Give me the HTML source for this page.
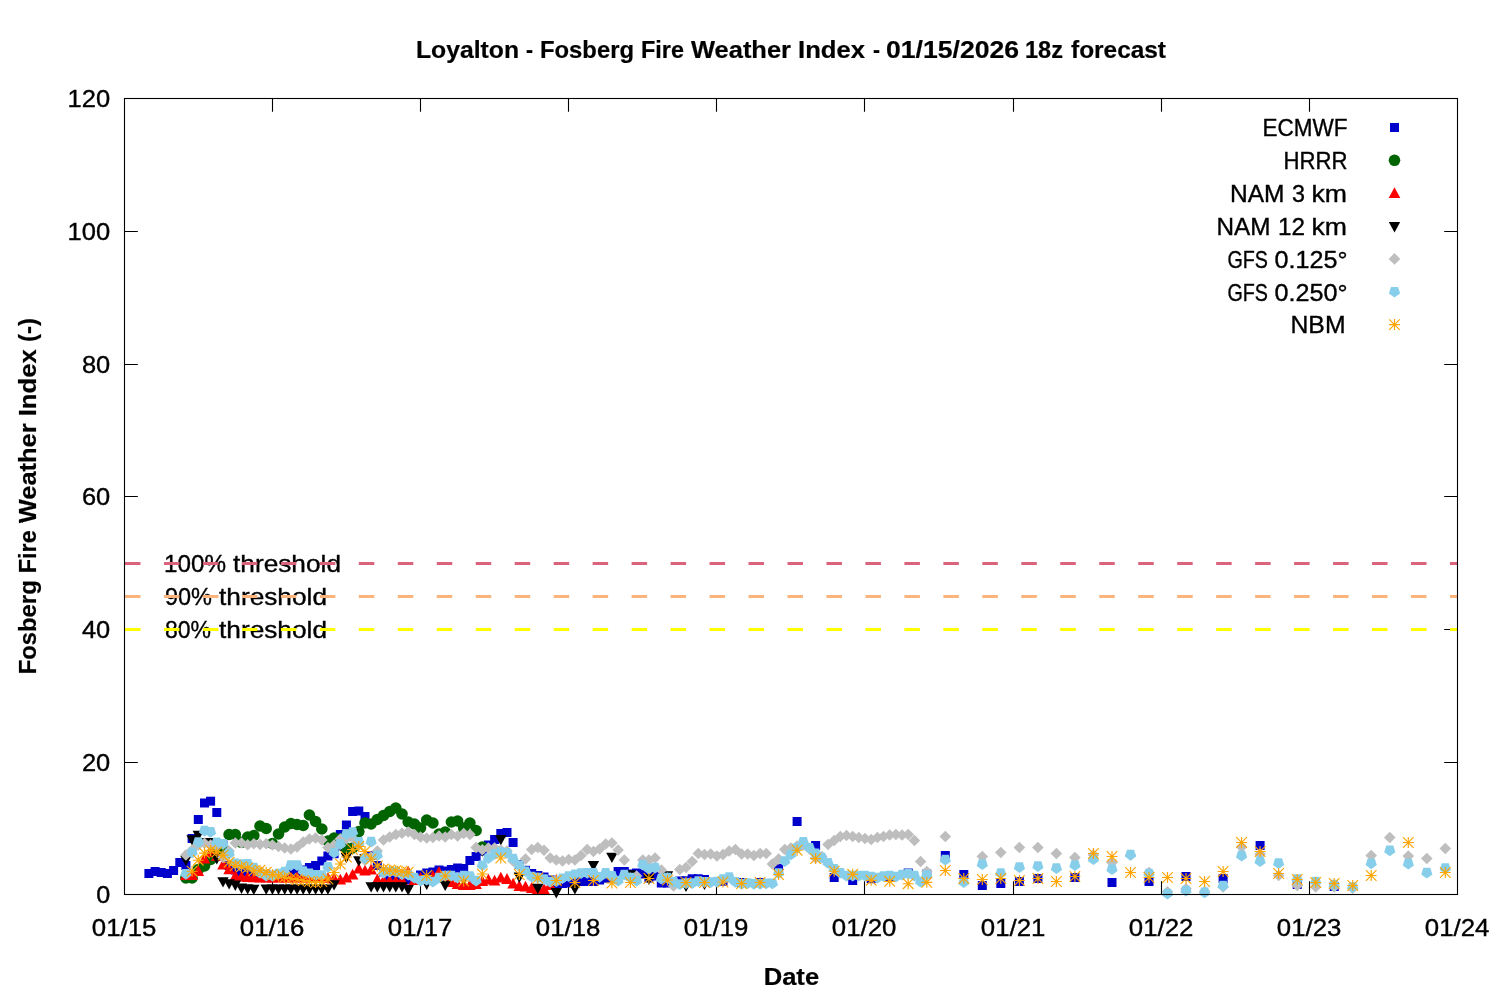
<!DOCTYPE html>
<html lang="en"><head><meta charset="utf-8"><title>Loyalton - Fosberg Fire Weather Index</title>
<style>html,body{margin:0;padding:0;background:#fff}svg{display:block}text{font-family:"Liberation Sans", "DejaVu Sans", sans-serif;font-size:23.6px;fill:#000;stroke:#000;stroke-width:.35px}.b{font-weight:bold;stroke-width:.2px}</style></head><body>
<svg width="1500" height="1000" viewBox="0 0 1500 1000">
<rect width="1500" height="1000" fill="#fff"/>
<g stroke="#000" stroke-width="1.1" fill="none">
<path d="M124.5 762.5h13.3M1457.5 762.5h-13.3M124.5 629.5h13.3M1457.5 629.5h-13.3M124.5 496.5h13.3M1457.5 496.5h-13.3M124.5 364.5h13.3M1457.5 364.5h-13.3M124.5 231.5h13.3M1457.5 231.5h-13.3M272.5 894.5v-13.3M272.5 98.5v13.3M420.5 894.5v-13.3M420.5 98.5v13.3M568.5 894.5v-13.3M568.5 98.5v13.3M716.5 894.5v-13.3M716.5 98.5v13.3M864.5 894.5v-13.3M864.5 98.5v13.3M1013.5 894.5v-13.3M1013.5 98.5v13.3M1161.5 894.5v-13.3M1161.5 98.5v13.3M1309.5 894.5v-13.3M1309.5 98.5v13.3"/>
</g>
<text y="57.6" class="b"><tspan x="416.0" textLength="103.0" lengthAdjust="spacingAndGlyphs">Loyalton</tspan> <tspan x="526.0" textLength="7.0" lengthAdjust="spacingAndGlyphs">-</tspan> <tspan x="540.0" textLength="94.0" lengthAdjust="spacingAndGlyphs">Fosberg</tspan> <tspan x="641.0" textLength="43.0" lengthAdjust="spacingAndGlyphs">Fire</tspan> <tspan x="691.0" textLength="100.0" lengthAdjust="spacingAndGlyphs">Weather</tspan> <tspan x="798.0" textLength="67.0" lengthAdjust="spacingAndGlyphs">Index</tspan> <tspan x="873.0" textLength="7.0" lengthAdjust="spacingAndGlyphs">-</tspan> <tspan x="886.0" textLength="133.0" lengthAdjust="spacingAndGlyphs">01/15/2026</tspan> <tspan x="1025.0" textLength="38.0" lengthAdjust="spacingAndGlyphs">18z</tspan> <tspan x="1071.0" textLength="95.0" lengthAdjust="spacingAndGlyphs">forecast</tspan></text>
<text x="791.4" y="985.0" text-anchor="middle" textLength="55.5" lengthAdjust="spacingAndGlyphs" class="b">Date</text>
<text transform="translate(36,673.3) rotate(-90)" class="b"><tspan x="-1.0" textLength="94.0" lengthAdjust="spacingAndGlyphs">Fosberg</tspan> <tspan x="100.0" textLength="43.0" lengthAdjust="spacingAndGlyphs">Fire</tspan> <tspan x="150.0" textLength="100.0" lengthAdjust="spacingAndGlyphs">Weather</tspan> <tspan x="257.0" textLength="67.0" lengthAdjust="spacingAndGlyphs">Index</tspan> <tspan x="331.3" textLength="24.0" lengthAdjust="spacingAndGlyphs">(-)</tspan></text>
<text x="110.2" y="903.2" text-anchor="end" textLength="14.0" lengthAdjust="spacingAndGlyphs">0</text>
<text x="110.2" y="771.2" text-anchor="end" textLength="28.3" lengthAdjust="spacingAndGlyphs">20</text>
<text x="110.2" y="638.2" text-anchor="end" textLength="28.3" lengthAdjust="spacingAndGlyphs">40</text>
<text x="110.2" y="505.2" text-anchor="end" textLength="28.3" lengthAdjust="spacingAndGlyphs">60</text>
<text x="110.2" y="373.2" text-anchor="end" textLength="28.3" lengthAdjust="spacingAndGlyphs">80</text>
<text x="110.2" y="240.2" text-anchor="end" textLength="42.6" lengthAdjust="spacingAndGlyphs">100</text>
<text x="110.2" y="107.2" text-anchor="end" textLength="42.6" lengthAdjust="spacingAndGlyphs">120</text>
<text x="124.1" y="936.0" text-anchor="middle" textLength="64.6" lengthAdjust="spacingAndGlyphs">01/15</text>
<text x="272.1" y="936.0" text-anchor="middle" textLength="64.6" lengthAdjust="spacingAndGlyphs">01/16</text>
<text x="420.1" y="936.0" text-anchor="middle" textLength="64.6" lengthAdjust="spacingAndGlyphs">01/17</text>
<text x="568.1" y="936.0" text-anchor="middle" textLength="64.6" lengthAdjust="spacingAndGlyphs">01/18</text>
<text x="716.1" y="936.0" text-anchor="middle" textLength="64.6" lengthAdjust="spacingAndGlyphs">01/19</text>
<text x="864.1" y="936.0" text-anchor="middle" textLength="64.6" lengthAdjust="spacingAndGlyphs">01/20</text>
<text x="1013.1" y="936.0" text-anchor="middle" textLength="64.6" lengthAdjust="spacingAndGlyphs">01/21</text>
<text x="1161.1" y="936.0" text-anchor="middle" textLength="64.6" lengthAdjust="spacingAndGlyphs">01/22</text>
<text x="1309.1" y="936.0" text-anchor="middle" textLength="64.6" lengthAdjust="spacingAndGlyphs">01/23</text>
<text x="1457.1" y="936.0" text-anchor="middle" textLength="64.6" lengthAdjust="spacingAndGlyphs">01/24</text>
<text y="571.6"><tspan x="164.0" textLength="62.0" lengthAdjust="spacingAndGlyphs">100%</tspan> <tspan x="233.0" textLength="108.0" lengthAdjust="spacingAndGlyphs">threshold</tspan></text>
<text y="604.7"><tspan x="165.0" textLength="47.0" lengthAdjust="spacingAndGlyphs">90%</tspan> <tspan x="219.0" textLength="108.0" lengthAdjust="spacingAndGlyphs">threshold</tspan></text>
<text y="637.8"><tspan x="165.0" textLength="46.0" lengthAdjust="spacingAndGlyphs">80%</tspan> <tspan x="219.0" textLength="108.0" lengthAdjust="spacingAndGlyphs">threshold</tspan></text>
<line x1="125.0" y1="563.5" x2="1457.5" y2="563.5" stroke="#dc637c" stroke-width="3" stroke-dasharray="15.5 23.47"/>
<line x1="125.0" y1="596.5" x2="1457.5" y2="596.5" stroke="#fbb47c" stroke-width="3" stroke-dasharray="15.5 23.47"/>
<line x1="125.0" y1="629.5" x2="1457.5" y2="629.5" stroke="#ffff00" stroke-width="3" stroke-dasharray="15.5 23.47"/>
<text y="136.3"><tspan x="1262.5" textLength="85.0" lengthAdjust="spacingAndGlyphs">ECMWF</tspan></text>
<g>
<rect x="1390.0" y="123.0" width="9" height="9" fill="#0000cd"/>
<rect x="144.4" y="869.0" width="9" height="9" fill="#0000cd"/><rect x="150.6" y="867.0" width="9" height="9" fill="#0000cd"/><rect x="156.7" y="868.0" width="9" height="9" fill="#0000cd"/><rect x="162.9" y="869.0" width="9" height="9" fill="#0000cd"/><rect x="169.1" y="866.0" width="9" height="9" fill="#0000cd"/><rect x="175.3" y="858.0" width="9" height="9" fill="#0000cd"/><rect x="181.4" y="861.0" width="9" height="9" fill="#0000cd"/><rect x="187.6" y="834.0" width="9" height="9" fill="#0000cd"/><rect x="193.8" y="815.0" width="9" height="9" fill="#0000cd"/><rect x="200.0" y="798.5" width="9" height="9" fill="#0000cd"/><rect x="206.1" y="796.7" width="9" height="9" fill="#0000cd"/><rect x="212.3" y="808.0" width="9" height="9" fill="#0000cd"/><rect x="218.5" y="840.5" width="9" height="9" fill="#0000cd"/><rect x="224.6" y="861.1" width="9" height="9" fill="#0000cd"/><rect x="230.8" y="865.5" width="9" height="9" fill="#0000cd"/><rect x="237.0" y="867.0" width="9" height="9" fill="#0000cd"/><rect x="243.2" y="867.5" width="9" height="9" fill="#0000cd"/><rect x="249.3" y="868.5" width="9" height="9" fill="#0000cd"/><rect x="255.5" y="869.5" width="9" height="9" fill="#0000cd"/><rect x="261.7" y="870.5" width="9" height="9" fill="#0000cd"/><rect x="267.9" y="871.0" width="9" height="9" fill="#0000cd"/><rect x="274.0" y="870.5" width="9" height="9" fill="#0000cd"/><rect x="280.2" y="869.5" width="9" height="9" fill="#0000cd"/><rect x="286.4" y="867.5" width="9" height="9" fill="#0000cd"/><rect x="292.6" y="868.0" width="9" height="9" fill="#0000cd"/><rect x="298.7" y="865.5" width="9" height="9" fill="#0000cd"/><rect x="304.9" y="863.0" width="9" height="9" fill="#0000cd"/><rect x="311.1" y="861.0" width="9" height="9" fill="#0000cd"/><rect x="317.3" y="856.5" width="9" height="9" fill="#0000cd"/><rect x="323.4" y="851.5" width="9" height="9" fill="#0000cd"/><rect x="329.6" y="849.2" width="9" height="9" fill="#0000cd"/><rect x="335.8" y="830.0" width="9" height="9" fill="#0000cd"/><rect x="341.9" y="820.5" width="9" height="9" fill="#0000cd"/><rect x="348.1" y="807.0" width="9" height="9" fill="#0000cd"/><rect x="354.3" y="806.5" width="9" height="9" fill="#0000cd"/><rect x="360.5" y="812.0" width="9" height="9" fill="#0000cd"/><rect x="366.6" y="851.0" width="9" height="9" fill="#0000cd"/><rect x="372.8" y="861.0" width="9" height="9" fill="#0000cd"/><rect x="379.0" y="867.5" width="9" height="9" fill="#0000cd"/><rect x="385.2" y="875.5" width="9" height="9" fill="#0000cd"/><rect x="391.3" y="875.5" width="9" height="9" fill="#0000cd"/><rect x="397.5" y="875.5" width="9" height="9" fill="#0000cd"/><rect x="403.7" y="875.5" width="9" height="9" fill="#0000cd"/><rect x="409.9" y="874.5" width="9" height="9" fill="#0000cd"/><rect x="416.0" y="870.5" width="9" height="9" fill="#0000cd"/><rect x="422.2" y="868.5" width="9" height="9" fill="#0000cd"/><rect x="428.4" y="867.5" width="9" height="9" fill="#0000cd"/><rect x="434.5" y="865.5" width="9" height="9" fill="#0000cd"/><rect x="440.7" y="866.5" width="9" height="9" fill="#0000cd"/><rect x="446.9" y="865.0" width="9" height="9" fill="#0000cd"/><rect x="453.1" y="863.5" width="9" height="9" fill="#0000cd"/><rect x="459.2" y="864.0" width="9" height="9" fill="#0000cd"/><rect x="465.4" y="856.0" width="9" height="9" fill="#0000cd"/><rect x="471.6" y="852.0" width="9" height="9" fill="#0000cd"/><rect x="477.8" y="846.5" width="9" height="9" fill="#0000cd"/><rect x="483.9" y="840.5" width="9" height="9" fill="#0000cd"/><rect x="490.1" y="835.0" width="9" height="9" fill="#0000cd"/><rect x="496.3" y="829.0" width="9" height="9" fill="#0000cd"/><rect x="502.5" y="828.0" width="9" height="9" fill="#0000cd"/><rect x="508.6" y="838.0" width="9" height="9" fill="#0000cd"/><rect x="514.8" y="860.0" width="9" height="9" fill="#0000cd"/><rect x="521.0" y="865.8" width="9" height="9" fill="#0000cd"/><rect x="527.2" y="869.0" width="9" height="9" fill="#0000cd"/><rect x="533.3" y="871.0" width="9" height="9" fill="#0000cd"/><rect x="539.5" y="872.5" width="9" height="9" fill="#0000cd"/><rect x="545.7" y="875.5" width="9" height="9" fill="#0000cd"/><rect x="551.8" y="879.0" width="9" height="9" fill="#0000cd"/><rect x="558.0" y="879.0" width="9" height="9" fill="#0000cd"/><rect x="564.2" y="878.5" width="9" height="9" fill="#0000cd"/><rect x="570.4" y="877.2" width="9" height="9" fill="#0000cd"/><rect x="576.5" y="877.0" width="9" height="9" fill="#0000cd"/><rect x="582.7" y="877.0" width="9" height="9" fill="#0000cd"/><rect x="588.9" y="877.0" width="9" height="9" fill="#0000cd"/><rect x="595.1" y="875.5" width="9" height="9" fill="#0000cd"/><rect x="601.2" y="873.7" width="9" height="9" fill="#0000cd"/><rect x="607.4" y="872.5" width="9" height="9" fill="#0000cd"/><rect x="613.6" y="867.0" width="9" height="9" fill="#0000cd"/><rect x="619.8" y="867.0" width="9" height="9" fill="#0000cd"/><rect x="625.9" y="869.5" width="9" height="9" fill="#0000cd"/><rect x="632.1" y="868.5" width="9" height="9" fill="#0000cd"/><rect x="638.3" y="869.5" width="9" height="9" fill="#0000cd"/><rect x="644.4" y="873.5" width="9" height="9" fill="#0000cd"/><rect x="650.6" y="871.5" width="9" height="9" fill="#0000cd"/><rect x="656.8" y="878.5" width="9" height="9" fill="#0000cd"/><rect x="663.0" y="878.5" width="9" height="9" fill="#0000cd"/><rect x="669.1" y="877.5" width="9" height="9" fill="#0000cd"/><rect x="675.3" y="876.5" width="9" height="9" fill="#0000cd"/><rect x="681.5" y="876.3" width="9" height="9" fill="#0000cd"/><rect x="687.7" y="874.3" width="9" height="9" fill="#0000cd"/><rect x="693.8" y="874.3" width="9" height="9" fill="#0000cd"/><rect x="700.0" y="875.0" width="9" height="9" fill="#0000cd"/><rect x="718.5" y="876.7" width="9" height="9" fill="#0000cd"/><rect x="737.1" y="878.0" width="9" height="9" fill="#0000cd"/><rect x="755.6" y="878.0" width="9" height="9" fill="#0000cd"/><rect x="774.1" y="864.0" width="9" height="9" fill="#0000cd"/><rect x="792.6" y="817.0" width="9" height="9" fill="#0000cd"/><rect x="811.1" y="841.0" width="9" height="9" fill="#0000cd"/><rect x="829.7" y="873.0" width="9" height="9" fill="#0000cd"/><rect x="848.2" y="876.0" width="9" height="9" fill="#0000cd"/><rect x="866.7" y="874.2" width="9" height="9" fill="#0000cd"/><rect x="885.2" y="873.0" width="9" height="9" fill="#0000cd"/><rect x="903.7" y="868.5" width="9" height="9" fill="#0000cd"/><rect x="922.3" y="869.5" width="9" height="9" fill="#0000cd"/><rect x="940.8" y="851.0" width="9" height="9" fill="#0000cd"/><rect x="959.3" y="870.0" width="9" height="9" fill="#0000cd"/><rect x="977.8" y="881.0" width="9" height="9" fill="#0000cd"/><rect x="996.3" y="879.0" width="9" height="9" fill="#0000cd"/><rect x="1014.9" y="877.0" width="9" height="9" fill="#0000cd"/><rect x="1033.4" y="874.0" width="9" height="9" fill="#0000cd"/><rect x="1070.4" y="873.0" width="9" height="9" fill="#0000cd"/><rect x="1107.5" y="878.0" width="9" height="9" fill="#0000cd"/><rect x="1144.5" y="877.0" width="9" height="9" fill="#0000cd"/><rect x="1181.5" y="872.0" width="9" height="9" fill="#0000cd"/><rect x="1218.6" y="874.0" width="9" height="9" fill="#0000cd"/><rect x="1255.6" y="841.0" width="9" height="9" fill="#0000cd"/><rect x="1292.7" y="880.0" width="9" height="9" fill="#0000cd"/><rect x="1329.7" y="882.0" width="9" height="9" fill="#0000cd"/>
</g>
<text y="169.2"><tspan x="1283.5" textLength="64.0" lengthAdjust="spacingAndGlyphs">HRRR</tspan></text>
<g>
<circle cx="1394.5" cy="160.3" r="5.8" fill="#006400"/>
<circle cx="185.9" cy="878.0" r="5.8" fill="#006400"/><circle cx="192.1" cy="878.0" r="5.8" fill="#006400"/><circle cx="198.3" cy="869.5" r="5.8" fill="#006400"/><circle cx="204.5" cy="866.0" r="5.8" fill="#006400"/><circle cx="210.6" cy="859.5" r="5.8" fill="#006400"/><circle cx="216.8" cy="853.5" r="5.8" fill="#006400"/><circle cx="223.0" cy="851.0" r="5.8" fill="#006400"/><circle cx="229.1" cy="834.5" r="5.8" fill="#006400"/><circle cx="235.3" cy="834.5" r="5.8" fill="#006400"/><circle cx="241.5" cy="842.3" r="5.8" fill="#006400"/><circle cx="247.7" cy="837.0" r="5.8" fill="#006400"/><circle cx="253.8" cy="835.5" r="5.8" fill="#006400"/><circle cx="260.0" cy="826.0" r="5.8" fill="#006400"/><circle cx="266.2" cy="828.5" r="5.8" fill="#006400"/><circle cx="272.4" cy="843.5" r="5.8" fill="#006400"/><circle cx="278.5" cy="834.0" r="5.8" fill="#006400"/><circle cx="284.7" cy="827.0" r="5.8" fill="#006400"/><circle cx="290.9" cy="823.5" r="5.8" fill="#006400"/><circle cx="297.1" cy="824.5" r="5.8" fill="#006400"/><circle cx="303.2" cy="825.5" r="5.8" fill="#006400"/><circle cx="309.4" cy="815.0" r="5.8" fill="#006400"/><circle cx="315.6" cy="821.5" r="5.8" fill="#006400"/><circle cx="321.8" cy="829.0" r="5.8" fill="#006400"/><circle cx="327.9" cy="841.0" r="5.8" fill="#006400"/><circle cx="334.1" cy="838.0" r="5.8" fill="#006400"/><circle cx="340.3" cy="839.0" r="5.8" fill="#006400"/><circle cx="346.4" cy="848.4" r="5.8" fill="#006400"/><circle cx="352.6" cy="848.0" r="5.8" fill="#006400"/><circle cx="358.8" cy="831.6" r="5.8" fill="#006400"/><circle cx="365.0" cy="823.0" r="5.8" fill="#006400"/><circle cx="371.1" cy="824.0" r="5.8" fill="#006400"/><circle cx="377.3" cy="819.5" r="5.8" fill="#006400"/><circle cx="383.5" cy="815.5" r="5.8" fill="#006400"/><circle cx="389.7" cy="811.5" r="5.8" fill="#006400"/><circle cx="395.8" cy="808.0" r="5.8" fill="#006400"/><circle cx="402.0" cy="814.0" r="5.8" fill="#006400"/><circle cx="408.2" cy="822.0" r="5.8" fill="#006400"/><circle cx="414.4" cy="824.0" r="5.8" fill="#006400"/><circle cx="420.5" cy="828.0" r="5.8" fill="#006400"/><circle cx="426.7" cy="820.0" r="5.8" fill="#006400"/><circle cx="432.9" cy="823.0" r="5.8" fill="#006400"/><circle cx="439.0" cy="834.0" r="5.8" fill="#006400"/><circle cx="445.2" cy="832.0" r="5.8" fill="#006400"/><circle cx="451.4" cy="822.0" r="5.8" fill="#006400"/><circle cx="457.6" cy="821.0" r="5.8" fill="#006400"/><circle cx="463.7" cy="828.0" r="5.8" fill="#006400"/><circle cx="469.9" cy="823.0" r="5.8" fill="#006400"/><circle cx="476.1" cy="830.5" r="5.8" fill="#006400"/><circle cx="482.3" cy="847.0" r="5.8" fill="#006400"/>
</g>
<text y="202.0"><tspan x="1230.0" textLength="54.5" lengthAdjust="spacingAndGlyphs">NAM</tspan> <tspan x="1292.0" textLength="13.0" lengthAdjust="spacingAndGlyphs">3</tspan> <tspan x="1311.5" textLength="35.5" lengthAdjust="spacingAndGlyphs">km</tspan></text>
<g>
<path d="M1394.5 187.3l5.8 10.8h-11.6z" fill="#ff0000"/>
<path d="M185.9 869.1l5.8 10.8h-11.6z" fill="#ff0000"/><path d="M192.1 869.1l5.8 10.8h-11.6z" fill="#ff0000"/><path d="M198.3 865.1l5.8 10.8h-11.6z" fill="#ff0000"/><path d="M204.5 852.7l5.8 10.8h-11.6z" fill="#ff0000"/><path d="M210.6 846.1l5.8 10.8h-11.6z" fill="#ff0000"/><path d="M216.8 850.1l5.8 10.8h-11.6z" fill="#ff0000"/><path d="M223.0 858.7l5.8 10.8h-11.6z" fill="#ff0000"/><path d="M229.1 863.4l5.8 10.8h-11.6z" fill="#ff0000"/><path d="M235.3 870.1l5.8 10.8h-11.6z" fill="#ff0000"/><path d="M241.5 870.8l5.8 10.8h-11.6z" fill="#ff0000"/><path d="M247.7 871.1l5.8 10.8h-11.6z" fill="#ff0000"/><path d="M253.8 871.4l5.8 10.8h-11.6z" fill="#ff0000"/><path d="M260.0 871.6l5.8 10.8h-11.6z" fill="#ff0000"/><path d="M266.2 871.6l5.8 10.8h-11.6z" fill="#ff0000"/><path d="M272.4 871.6l5.8 10.8h-11.6z" fill="#ff0000"/><path d="M278.5 871.6l5.8 10.8h-11.6z" fill="#ff0000"/><path d="M284.7 871.6l5.8 10.8h-11.6z" fill="#ff0000"/><path d="M290.9 871.6l5.8 10.8h-11.6z" fill="#ff0000"/><path d="M297.1 871.6l5.8 10.8h-11.6z" fill="#ff0000"/><path d="M303.2 871.6l5.8 10.8h-11.6z" fill="#ff0000"/><path d="M309.4 871.6l5.8 10.8h-11.6z" fill="#ff0000"/><path d="M315.6 871.6l5.8 10.8h-11.6z" fill="#ff0000"/><path d="M321.8 871.6l5.8 10.8h-11.6z" fill="#ff0000"/><path d="M327.9 871.9l5.8 10.8h-11.6z" fill="#ff0000"/><path d="M334.1 872.6l5.8 10.8h-11.6z" fill="#ff0000"/><path d="M340.3 873.7l5.8 10.8h-11.6z" fill="#ff0000"/><path d="M346.4 871.7l5.8 10.8h-11.6z" fill="#ff0000"/><path d="M352.6 868.7l5.8 10.8h-11.6z" fill="#ff0000"/><path d="M358.8 862.7l5.8 10.8h-11.6z" fill="#ff0000"/><path d="M365.0 864.7l5.8 10.8h-11.6z" fill="#ff0000"/><path d="M371.1 863.7l5.8 10.8h-11.6z" fill="#ff0000"/><path d="M377.3 873.6l5.8 10.8h-11.6z" fill="#ff0000"/><path d="M383.5 874.7l5.8 10.8h-11.6z" fill="#ff0000"/><path d="M389.7 874.7l5.8 10.8h-11.6z" fill="#ff0000"/><path d="M395.8 875.1l5.8 10.8h-11.6z" fill="#ff0000"/><path d="M402.0 874.1l5.8 10.8h-11.6z" fill="#ff0000"/><path d="M408.2 865.7l5.8 10.8h-11.6z" fill="#ff0000"/><path d="M414.4 874.1l5.8 10.8h-11.6z" fill="#ff0000"/><path d="M420.5 872.1l5.8 10.8h-11.6z" fill="#ff0000"/><path d="M426.7 873.1l5.8 10.8h-11.6z" fill="#ff0000"/><path d="M432.9 870.1l5.8 10.8h-11.6z" fill="#ff0000"/><path d="M439.0 866.1l5.8 10.8h-11.6z" fill="#ff0000"/><path d="M445.2 872.1l5.8 10.8h-11.6z" fill="#ff0000"/><path d="M451.4 876.1l5.8 10.8h-11.6z" fill="#ff0000"/><path d="M457.6 878.1l5.8 10.8h-11.6z" fill="#ff0000"/><path d="M463.7 879.1l5.8 10.8h-11.6z" fill="#ff0000"/><path d="M469.9 879.1l5.8 10.8h-11.6z" fill="#ff0000"/><path d="M476.1 878.1l5.8 10.8h-11.6z" fill="#ff0000"/><path d="M482.3 875.1l5.8 10.8h-11.6z" fill="#ff0000"/><path d="M488.4 873.7l5.8 10.8h-11.6z" fill="#ff0000"/><path d="M494.6 874.7l5.8 10.8h-11.6z" fill="#ff0000"/><path d="M500.8 871.7l5.8 10.8h-11.6z" fill="#ff0000"/><path d="M507.0 873.1l5.8 10.8h-11.6z" fill="#ff0000"/><path d="M513.1 877.7l5.8 10.8h-11.6z" fill="#ff0000"/><path d="M519.3 880.1l5.8 10.8h-11.6z" fill="#ff0000"/><path d="M525.5 880.7l5.8 10.8h-11.6z" fill="#ff0000"/><path d="M531.7 882.1l5.8 10.8h-11.6z" fill="#ff0000"/><path d="M537.8 883.1l5.8 10.8h-11.6z" fill="#ff0000"/><path d="M544.0 883.1l5.8 10.8h-11.6z" fill="#ff0000"/><path d="M550.2 879.1l5.8 10.8h-11.6z" fill="#ff0000"/><path d="M556.3 874.1l5.8 10.8h-11.6z" fill="#ff0000"/>
</g>
<text y="234.9"><tspan x="1216.5" textLength="54.0" lengthAdjust="spacingAndGlyphs">NAM</tspan> <tspan x="1278.0" textLength="27.0" lengthAdjust="spacingAndGlyphs">12</tspan> <tspan x="1311.5" textLength="35.5" lengthAdjust="spacingAndGlyphs">km</tspan></text>
<g>
<path d="M1394.5 232.4l5.7 -10.3h-11.4z" fill="#000000"/>
<path d="M185.9 866.1l5.7 -10.3h-11.4z" fill="#000000"/><path d="M192.1 845.5l5.7 -10.3h-11.4z" fill="#000000"/><path d="M198.3 841.0l5.7 -10.3h-11.4z" fill="#000000"/><path d="M204.5 848.3l5.7 -10.3h-11.4z" fill="#000000"/><path d="M210.6 848.3l5.7 -10.3h-11.4z" fill="#000000"/><path d="M216.8 864.5l5.7 -10.3h-11.4z" fill="#000000"/><path d="M223.0 887.5l5.7 -10.3h-11.4z" fill="#000000"/><path d="M229.1 889.5l5.7 -10.3h-11.4z" fill="#000000"/><path d="M235.3 890.9l5.7 -10.3h-11.4z" fill="#000000"/><path d="M241.5 893.9l5.7 -10.3h-11.4z" fill="#000000"/><path d="M247.7 894.5l5.7 -10.3h-11.4z" fill="#000000"/><path d="M253.8 895.0l5.7 -10.3h-11.4z" fill="#000000"/><path d="M266.2 894.8l5.7 -10.3h-11.4z" fill="#000000"/><path d="M272.4 894.8l5.7 -10.3h-11.4z" fill="#000000"/><path d="M278.5 894.8l5.7 -10.3h-11.4z" fill="#000000"/><path d="M284.7 894.8l5.7 -10.3h-11.4z" fill="#000000"/><path d="M290.9 894.8l5.7 -10.3h-11.4z" fill="#000000"/><path d="M297.1 894.8l5.7 -10.3h-11.4z" fill="#000000"/><path d="M303.2 894.8l5.7 -10.3h-11.4z" fill="#000000"/><path d="M309.4 894.8l5.7 -10.3h-11.4z" fill="#000000"/><path d="M315.6 894.8l5.7 -10.3h-11.4z" fill="#000000"/><path d="M321.8 894.8l5.7 -10.3h-11.4z" fill="#000000"/><path d="M327.9 894.8l5.7 -10.3h-11.4z" fill="#000000"/><path d="M334.1 890.5l5.7 -10.3h-11.4z" fill="#000000"/><path d="M340.3 851.5l5.7 -10.3h-11.4z" fill="#000000"/><path d="M346.4 863.3l5.7 -10.3h-11.4z" fill="#000000"/><path d="M352.6 839.9l5.7 -10.3h-11.4z" fill="#000000"/><path d="M358.8 866.5l5.7 -10.3h-11.4z" fill="#000000"/><path d="M365.0 864.5l5.7 -10.3h-11.4z" fill="#000000"/><path d="M371.1 892.5l5.7 -10.3h-11.4z" fill="#000000"/><path d="M377.3 892.5l5.7 -10.3h-11.4z" fill="#000000"/><path d="M383.5 892.5l5.7 -10.3h-11.4z" fill="#000000"/><path d="M389.7 892.5l5.7 -10.3h-11.4z" fill="#000000"/><path d="M395.8 892.5l5.7 -10.3h-11.4z" fill="#000000"/><path d="M402.0 892.5l5.7 -10.3h-11.4z" fill="#000000"/><path d="M408.2 895.4l5.7 -10.3h-11.4z" fill="#000000"/><path d="M426.7 889.9l5.7 -10.3h-11.4z" fill="#000000"/><path d="M445.2 891.1l5.7 -10.3h-11.4z" fill="#000000"/><path d="M463.7 885.0l5.7 -10.3h-11.4z" fill="#000000"/><path d="M482.3 856.8l5.7 -10.3h-11.4z" fill="#000000"/><path d="M500.8 845.4l5.7 -10.3h-11.4z" fill="#000000"/><path d="M519.3 882.9l5.7 -10.3h-11.4z" fill="#000000"/><path d="M537.8 894.0l5.7 -10.3h-11.4z" fill="#000000"/><path d="M556.3 898.4l5.7 -10.3h-11.4z" fill="#000000"/><path d="M574.9 894.5l5.7 -10.3h-11.4z" fill="#000000"/><path d="M593.4 871.4l5.7 -10.3h-11.4z" fill="#000000"/><path d="M611.9 863.0l5.7 -10.3h-11.4z" fill="#000000"/><path d="M630.4 880.5l5.7 -10.3h-11.4z" fill="#000000"/><path d="M648.9 884.9l5.7 -10.3h-11.4z" fill="#000000"/><path d="M667.5 881.5l5.7 -10.3h-11.4z" fill="#000000"/><path d="M686.0 891.9l5.7 -10.3h-11.4z" fill="#000000"/><path d="M704.5 889.9l5.7 -10.3h-11.4z" fill="#000000"/>
</g>
<text y="267.7"><tspan x="1227.5" textLength="40.5" lengthAdjust="spacingAndGlyphs">GFS</tspan> <tspan x="1274.5" textLength="73.0" lengthAdjust="spacingAndGlyphs">0.125°</tspan></text>
<g>
<path d="M1394.5 253.1l5.8 5.8l-5.8 5.8l-5.8 -5.8z" fill="#bebebe"/>
<path d="M185.9 849.2l5.8 5.8l-5.8 5.8l-5.8 -5.8z" fill="#bebebe"/><path d="M192.1 844.2l5.8 5.8l-5.8 5.8l-5.8 -5.8z" fill="#bebebe"/><path d="M198.3 839.2l5.8 5.8l-5.8 5.8l-5.8 -5.8z" fill="#bebebe"/><path d="M204.5 837.4l5.8 5.8l-5.8 5.8l-5.8 -5.8z" fill="#bebebe"/><path d="M210.6 839.2l5.8 5.8l-5.8 5.8l-5.8 -5.8z" fill="#bebebe"/><path d="M216.8 839.7l5.8 5.8l-5.8 5.8l-5.8 -5.8z" fill="#bebebe"/><path d="M223.0 851.6l5.8 5.8l-5.8 5.8l-5.8 -5.8z" fill="#bebebe"/><path d="M229.1 845.2l5.8 5.8l-5.8 5.8l-5.8 -5.8z" fill="#bebebe"/><path d="M235.3 837.2l5.8 5.8l-5.8 5.8l-5.8 -5.8z" fill="#bebebe"/><path d="M241.5 837.2l5.8 5.8l-5.8 5.8l-5.8 -5.8z" fill="#bebebe"/><path d="M247.7 838.9l5.8 5.8l-5.8 5.8l-5.8 -5.8z" fill="#bebebe"/><path d="M253.8 837.9l5.8 5.8l-5.8 5.8l-5.8 -5.8z" fill="#bebebe"/><path d="M260.0 838.6l5.8 5.8l-5.8 5.8l-5.8 -5.8z" fill="#bebebe"/><path d="M266.2 838.0l5.8 5.8l-5.8 5.8l-5.8 -5.8z" fill="#bebebe"/><path d="M272.4 839.2l5.8 5.8l-5.8 5.8l-5.8 -5.8z" fill="#bebebe"/><path d="M278.5 840.7l5.8 5.8l-5.8 5.8l-5.8 -5.8z" fill="#bebebe"/><path d="M284.7 842.2l5.8 5.8l-5.8 5.8l-5.8 -5.8z" fill="#bebebe"/><path d="M290.9 843.2l5.8 5.8l-5.8 5.8l-5.8 -5.8z" fill="#bebebe"/><path d="M297.1 841.2l5.8 5.8l-5.8 5.8l-5.8 -5.8z" fill="#bebebe"/><path d="M303.2 836.2l5.8 5.8l-5.8 5.8l-5.8 -5.8z" fill="#bebebe"/><path d="M309.4 833.2l5.8 5.8l-5.8 5.8l-5.8 -5.8z" fill="#bebebe"/><path d="M315.6 832.2l5.8 5.8l-5.8 5.8l-5.8 -5.8z" fill="#bebebe"/><path d="M321.8 834.2l5.8 5.8l-5.8 5.8l-5.8 -5.8z" fill="#bebebe"/><path d="M327.9 841.7l5.8 5.8l-5.8 5.8l-5.8 -5.8z" fill="#bebebe"/><path d="M334.1 839.2l5.8 5.8l-5.8 5.8l-5.8 -5.8z" fill="#bebebe"/><path d="M340.3 833.2l5.8 5.8l-5.8 5.8l-5.8 -5.8z" fill="#bebebe"/><path d="M346.4 833.2l5.8 5.8l-5.8 5.8l-5.8 -5.8z" fill="#bebebe"/><path d="M352.6 832.2l5.8 5.8l-5.8 5.8l-5.8 -5.8z" fill="#bebebe"/><path d="M358.8 839.2l5.8 5.8l-5.8 5.8l-5.8 -5.8z" fill="#bebebe"/><path d="M365.0 854.4l5.8 5.8l-5.8 5.8l-5.8 -5.8z" fill="#bebebe"/><path d="M371.1 851.2l5.8 5.8l-5.8 5.8l-5.8 -5.8z" fill="#bebebe"/><path d="M377.3 845.2l5.8 5.8l-5.8 5.8l-5.8 -5.8z" fill="#bebebe"/><path d="M383.5 834.2l5.8 5.8l-5.8 5.8l-5.8 -5.8z" fill="#bebebe"/><path d="M389.7 831.2l5.8 5.8l-5.8 5.8l-5.8 -5.8z" fill="#bebebe"/><path d="M395.8 828.7l5.8 5.8l-5.8 5.8l-5.8 -5.8z" fill="#bebebe"/><path d="M402.0 827.4l5.8 5.8l-5.8 5.8l-5.8 -5.8z" fill="#bebebe"/><path d="M408.2 826.2l5.8 5.8l-5.8 5.8l-5.8 -5.8z" fill="#bebebe"/><path d="M414.4 828.7l5.8 5.8l-5.8 5.8l-5.8 -5.8z" fill="#bebebe"/><path d="M420.5 831.2l5.8 5.8l-5.8 5.8l-5.8 -5.8z" fill="#bebebe"/><path d="M426.7 832.2l5.8 5.8l-5.8 5.8l-5.8 -5.8z" fill="#bebebe"/><path d="M432.9 831.7l5.8 5.8l-5.8 5.8l-5.8 -5.8z" fill="#bebebe"/><path d="M439.0 830.2l5.8 5.8l-5.8 5.8l-5.8 -5.8z" fill="#bebebe"/><path d="M445.2 831.2l5.8 5.8l-5.8 5.8l-5.8 -5.8z" fill="#bebebe"/><path d="M451.4 828.7l5.8 5.8l-5.8 5.8l-5.8 -5.8z" fill="#bebebe"/><path d="M457.6 830.2l5.8 5.8l-5.8 5.8l-5.8 -5.8z" fill="#bebebe"/><path d="M463.7 827.7l5.8 5.8l-5.8 5.8l-5.8 -5.8z" fill="#bebebe"/><path d="M469.9 828.7l5.8 5.8l-5.8 5.8l-5.8 -5.8z" fill="#bebebe"/><path d="M476.1 841.7l5.8 5.8l-5.8 5.8l-5.8 -5.8z" fill="#bebebe"/><path d="M482.3 844.0l5.8 5.8l-5.8 5.8l-5.8 -5.8z" fill="#bebebe"/><path d="M488.4 842.2l5.8 5.8l-5.8 5.8l-5.8 -5.8z" fill="#bebebe"/><path d="M494.6 842.2l5.8 5.8l-5.8 5.8l-5.8 -5.8z" fill="#bebebe"/><path d="M500.8 844.2l5.8 5.8l-5.8 5.8l-5.8 -5.8z" fill="#bebebe"/><path d="M507.0 845.2l5.8 5.8l-5.8 5.8l-5.8 -5.8z" fill="#bebebe"/><path d="M513.1 855.2l5.8 5.8l-5.8 5.8l-5.8 -5.8z" fill="#bebebe"/><path d="M519.3 860.6l5.8 5.8l-5.8 5.8l-5.8 -5.8z" fill="#bebebe"/><path d="M525.5 853.2l5.8 5.8l-5.8 5.8l-5.8 -5.8z" fill="#bebebe"/><path d="M531.7 843.7l5.8 5.8l-5.8 5.8l-5.8 -5.8z" fill="#bebebe"/><path d="M537.8 841.7l5.8 5.8l-5.8 5.8l-5.8 -5.8z" fill="#bebebe"/><path d="M544.0 844.4l5.8 5.8l-5.8 5.8l-5.8 -5.8z" fill="#bebebe"/><path d="M550.2 852.2l5.8 5.8l-5.8 5.8l-5.8 -5.8z" fill="#bebebe"/><path d="M556.3 854.2l5.8 5.8l-5.8 5.8l-5.8 -5.8z" fill="#bebebe"/><path d="M562.5 855.2l5.8 5.8l-5.8 5.8l-5.8 -5.8z" fill="#bebebe"/><path d="M568.7 853.7l5.8 5.8l-5.8 5.8l-5.8 -5.8z" fill="#bebebe"/><path d="M574.9 854.2l5.8 5.8l-5.8 5.8l-5.8 -5.8z" fill="#bebebe"/><path d="M581.0 849.7l5.8 5.8l-5.8 5.8l-5.8 -5.8z" fill="#bebebe"/><path d="M587.2 843.7l5.8 5.8l-5.8 5.8l-5.8 -5.8z" fill="#bebebe"/><path d="M593.4 845.7l5.8 5.8l-5.8 5.8l-5.8 -5.8z" fill="#bebebe"/><path d="M599.6 843.2l5.8 5.8l-5.8 5.8l-5.8 -5.8z" fill="#bebebe"/><path d="M605.7 838.2l5.8 5.8l-5.8 5.8l-5.8 -5.8z" fill="#bebebe"/><path d="M611.9 837.2l5.8 5.8l-5.8 5.8l-5.8 -5.8z" fill="#bebebe"/><path d="M618.1 844.2l5.8 5.8l-5.8 5.8l-5.8 -5.8z" fill="#bebebe"/><path d="M624.3 854.2l5.8 5.8l-5.8 5.8l-5.8 -5.8z" fill="#bebebe"/><path d="M630.4 872.2l5.8 5.8l-5.8 5.8l-5.8 -5.8z" fill="#bebebe"/><path d="M636.6 870.2l5.8 5.8l-5.8 5.8l-5.8 -5.8z" fill="#bebebe"/><path d="M642.8 854.2l5.8 5.8l-5.8 5.8l-5.8 -5.8z" fill="#bebebe"/><path d="M648.9 854.2l5.8 5.8l-5.8 5.8l-5.8 -5.8z" fill="#bebebe"/><path d="M655.1 852.2l5.8 5.8l-5.8 5.8l-5.8 -5.8z" fill="#bebebe"/><path d="M661.3 864.2l5.8 5.8l-5.8 5.8l-5.8 -5.8z" fill="#bebebe"/><path d="M667.5 872.2l5.8 5.8l-5.8 5.8l-5.8 -5.8z" fill="#bebebe"/><path d="M673.6 880.2l5.8 5.8l-5.8 5.8l-5.8 -5.8z" fill="#bebebe"/><path d="M679.8 863.7l5.8 5.8l-5.8 5.8l-5.8 -5.8z" fill="#bebebe"/><path d="M686.0 861.7l5.8 5.8l-5.8 5.8l-5.8 -5.8z" fill="#bebebe"/><path d="M692.2 855.7l5.8 5.8l-5.8 5.8l-5.8 -5.8z" fill="#bebebe"/><path d="M698.3 847.7l5.8 5.8l-5.8 5.8l-5.8 -5.8z" fill="#bebebe"/><path d="M704.5 848.7l5.8 5.8l-5.8 5.8l-5.8 -5.8z" fill="#bebebe"/><path d="M710.7 848.2l5.8 5.8l-5.8 5.8l-5.8 -5.8z" fill="#bebebe"/><path d="M716.9 850.2l5.8 5.8l-5.8 5.8l-5.8 -5.8z" fill="#bebebe"/><path d="M723.0 848.7l5.8 5.8l-5.8 5.8l-5.8 -5.8z" fill="#bebebe"/><path d="M729.2 845.2l5.8 5.8l-5.8 5.8l-5.8 -5.8z" fill="#bebebe"/><path d="M735.4 843.7l5.8 5.8l-5.8 5.8l-5.8 -5.8z" fill="#bebebe"/><path d="M741.6 848.2l5.8 5.8l-5.8 5.8l-5.8 -5.8z" fill="#bebebe"/><path d="M747.7 848.2l5.8 5.8l-5.8 5.8l-5.8 -5.8z" fill="#bebebe"/><path d="M753.9 849.7l5.8 5.8l-5.8 5.8l-5.8 -5.8z" fill="#bebebe"/><path d="M760.1 847.7l5.8 5.8l-5.8 5.8l-5.8 -5.8z" fill="#bebebe"/><path d="M766.2 847.7l5.8 5.8l-5.8 5.8l-5.8 -5.8z" fill="#bebebe"/><path d="M772.4 858.2l5.8 5.8l-5.8 5.8l-5.8 -5.8z" fill="#bebebe"/><path d="M778.6 853.2l5.8 5.8l-5.8 5.8l-5.8 -5.8z" fill="#bebebe"/><path d="M784.8 843.7l5.8 5.8l-5.8 5.8l-5.8 -5.8z" fill="#bebebe"/><path d="M790.9 842.2l5.8 5.8l-5.8 5.8l-5.8 -5.8z" fill="#bebebe"/><path d="M797.1 840.2l5.8 5.8l-5.8 5.8l-5.8 -5.8z" fill="#bebebe"/><path d="M803.3 839.2l5.8 5.8l-5.8 5.8l-5.8 -5.8z" fill="#bebebe"/><path d="M809.5 843.2l5.8 5.8l-5.8 5.8l-5.8 -5.8z" fill="#bebebe"/><path d="M815.6 852.2l5.8 5.8l-5.8 5.8l-5.8 -5.8z" fill="#bebebe"/><path d="M821.8 850.7l5.8 5.8l-5.8 5.8l-5.8 -5.8z" fill="#bebebe"/><path d="M828.0 838.7l5.8 5.8l-5.8 5.8l-5.8 -5.8z" fill="#bebebe"/><path d="M834.2 834.7l5.8 5.8l-5.8 5.8l-5.8 -5.8z" fill="#bebebe"/><path d="M840.3 830.7l5.8 5.8l-5.8 5.8l-5.8 -5.8z" fill="#bebebe"/><path d="M846.5 829.7l5.8 5.8l-5.8 5.8l-5.8 -5.8z" fill="#bebebe"/><path d="M852.7 830.7l5.8 5.8l-5.8 5.8l-5.8 -5.8z" fill="#bebebe"/><path d="M858.8 831.7l5.8 5.8l-5.8 5.8l-5.8 -5.8z" fill="#bebebe"/><path d="M865.0 832.7l5.8 5.8l-5.8 5.8l-5.8 -5.8z" fill="#bebebe"/><path d="M871.2 833.7l5.8 5.8l-5.8 5.8l-5.8 -5.8z" fill="#bebebe"/><path d="M877.4 831.7l5.8 5.8l-5.8 5.8l-5.8 -5.8z" fill="#bebebe"/><path d="M883.5 830.7l5.8 5.8l-5.8 5.8l-5.8 -5.8z" fill="#bebebe"/><path d="M889.7 829.2l5.8 5.8l-5.8 5.8l-5.8 -5.8z" fill="#bebebe"/><path d="M895.9 828.7l5.8 5.8l-5.8 5.8l-5.8 -5.8z" fill="#bebebe"/><path d="M902.1 829.2l5.8 5.8l-5.8 5.8l-5.8 -5.8z" fill="#bebebe"/><path d="M908.2 828.7l5.8 5.8l-5.8 5.8l-5.8 -5.8z" fill="#bebebe"/><path d="M914.4 834.7l5.8 5.8l-5.8 5.8l-5.8 -5.8z" fill="#bebebe"/><path d="M920.6 855.7l5.8 5.8l-5.8 5.8l-5.8 -5.8z" fill="#bebebe"/><path d="M926.8 865.7l5.8 5.8l-5.8 5.8l-5.8 -5.8z" fill="#bebebe"/><path d="M945.3 830.7l5.8 5.8l-5.8 5.8l-5.8 -5.8z" fill="#bebebe"/><path d="M982.3 850.7l5.8 5.8l-5.8 5.8l-5.8 -5.8z" fill="#bebebe"/><path d="M1000.8 846.7l5.8 5.8l-5.8 5.8l-5.8 -5.8z" fill="#bebebe"/><path d="M1019.4 841.7l5.8 5.8l-5.8 5.8l-5.8 -5.8z" fill="#bebebe"/><path d="M1037.9 841.7l5.8 5.8l-5.8 5.8l-5.8 -5.8z" fill="#bebebe"/><path d="M1056.4 847.7l5.8 5.8l-5.8 5.8l-5.8 -5.8z" fill="#bebebe"/><path d="M1074.9 851.7l5.8 5.8l-5.8 5.8l-5.8 -5.8z" fill="#bebebe"/><path d="M1093.4 849.2l5.8 5.8l-5.8 5.8l-5.8 -5.8z" fill="#bebebe"/><path d="M1112.0 856.7l5.8 5.8l-5.8 5.8l-5.8 -5.8z" fill="#bebebe"/><path d="M1130.5 849.5l5.8 5.8l-5.8 5.8l-5.8 -5.8z" fill="#bebebe"/><path d="M1149.0 866.7l5.8 5.8l-5.8 5.8l-5.8 -5.8z" fill="#bebebe"/><path d="M1167.5 886.0l5.8 5.8l-5.8 5.8l-5.8 -5.8z" fill="#bebebe"/><path d="M1186.0 883.0l5.8 5.8l-5.8 5.8l-5.8 -5.8z" fill="#bebebe"/><path d="M1204.6 885.7l5.8 5.8l-5.8 5.8l-5.8 -5.8z" fill="#bebebe"/><path d="M1223.1 881.2l5.8 5.8l-5.8 5.8l-5.8 -5.8z" fill="#bebebe"/><path d="M1241.6 841.2l5.8 5.8l-5.8 5.8l-5.8 -5.8z" fill="#bebebe"/><path d="M1260.1 848.2l5.8 5.8l-5.8 5.8l-5.8 -5.8z" fill="#bebebe"/><path d="M1278.6 869.7l5.8 5.8l-5.8 5.8l-5.8 -5.8z" fill="#bebebe"/><path d="M1297.2 879.7l5.8 5.8l-5.8 5.8l-5.8 -5.8z" fill="#bebebe"/><path d="M1315.7 881.2l5.8 5.8l-5.8 5.8l-5.8 -5.8z" fill="#bebebe"/><path d="M1334.2 881.2l5.8 5.8l-5.8 5.8l-5.8 -5.8z" fill="#bebebe"/><path d="M1352.7 882.5l5.8 5.8l-5.8 5.8l-5.8 -5.8z" fill="#bebebe"/><path d="M1371.2 849.7l5.8 5.8l-5.8 5.8l-5.8 -5.8z" fill="#bebebe"/><path d="M1389.8 831.7l5.8 5.8l-5.8 5.8l-5.8 -5.8z" fill="#bebebe"/><path d="M1408.3 850.2l5.8 5.8l-5.8 5.8l-5.8 -5.8z" fill="#bebebe"/><path d="M1426.8 852.7l5.8 5.8l-5.8 5.8l-5.8 -5.8z" fill="#bebebe"/><path d="M1445.3 842.7l5.8 5.8l-5.8 5.8l-5.8 -5.8z" fill="#bebebe"/>
</g>
<text y="300.6"><tspan x="1227.5" textLength="40.5" lengthAdjust="spacingAndGlyphs">GFS</tspan> <tspan x="1274.5" textLength="73.0" lengthAdjust="spacingAndGlyphs">0.250°</tspan></text>
<g>
<path d="M1394.5 297.6L1400.1 293.6L1398.0 287.0L1391.0 287.0L1388.9 293.6z" fill="#87ceeb"/>
<path d="M185.9 879.7L191.5 875.6L189.4 869.0L182.4 869.0L180.3 875.6z" fill="#87ceeb"/><path d="M192.1 858.3L197.7 854.2L195.6 847.6L188.6 847.6L186.5 854.2z" fill="#87ceeb"/><path d="M198.3 847.9L203.9 843.8L201.8 837.2L194.8 837.2L192.7 843.8z" fill="#87ceeb"/><path d="M204.5 836.5L210.1 832.4L208.0 825.8L201.0 825.8L198.9 832.4z" fill="#87ceeb"/><path d="M210.6 837.8L216.2 833.7L214.1 827.1L207.1 827.1L205.0 833.7z" fill="#87ceeb"/><path d="M216.8 848.2L222.4 844.1L220.3 837.5L213.3 837.5L211.2 844.1z" fill="#87ceeb"/><path d="M223.0 849.7L228.6 845.6L226.5 839.0L219.5 839.0L217.4 845.6z" fill="#87ceeb"/><path d="M229.1 859.5L234.7 855.4L232.6 848.8L225.6 848.8L223.5 855.4z" fill="#87ceeb"/><path d="M235.3 869.1L240.9 865.0L238.8 858.4L231.8 858.4L229.7 865.0z" fill="#87ceeb"/><path d="M241.5 870.0L247.1 865.9L245.0 859.3L238.0 859.3L235.9 865.9z" fill="#87ceeb"/><path d="M247.7 869.7L253.3 865.6L251.2 859.0L244.2 859.0L242.1 865.6z" fill="#87ceeb"/><path d="M253.8 873.5L259.4 869.4L257.3 862.8L250.3 862.8L248.2 869.4z" fill="#87ceeb"/><path d="M260.0 878.5L265.6 874.4L263.5 867.8L256.5 867.8L254.4 874.4z" fill="#87ceeb"/><path d="M266.2 881.5L271.8 877.4L269.7 870.8L262.7 870.8L260.6 877.4z" fill="#87ceeb"/><path d="M272.4 881.5L278.0 877.4L275.9 870.8L268.9 870.8L266.8 877.4z" fill="#87ceeb"/><path d="M278.5 879.5L284.1 875.4L282.0 868.8L275.0 868.8L272.9 875.4z" fill="#87ceeb"/><path d="M284.7 877.5L290.3 873.4L288.2 866.8L281.2 866.8L279.1 873.4z" fill="#87ceeb"/><path d="M290.9 870.9L296.5 866.8L294.4 860.2L287.4 860.2L285.3 866.8z" fill="#87ceeb"/><path d="M297.1 870.9L302.7 866.8L300.6 860.2L293.6 860.2L291.5 866.8z" fill="#87ceeb"/><path d="M303.2 876.9L308.8 872.8L306.7 866.2L299.7 866.2L297.6 872.8z" fill="#87ceeb"/><path d="M309.4 879.1L315.0 875.0L312.9 868.4L305.9 868.4L303.8 875.0z" fill="#87ceeb"/><path d="M315.6 880.7L321.2 876.6L319.1 870.0L312.1 870.0L310.0 876.6z" fill="#87ceeb"/><path d="M321.8 881.0L327.4 876.9L325.3 870.3L318.3 870.3L316.2 876.9z" fill="#87ceeb"/><path d="M327.9 872.7L333.5 868.6L331.4 862.0L324.4 862.0L322.3 868.6z" fill="#87ceeb"/><path d="M334.1 858.5L339.7 854.4L337.6 847.8L330.6 847.8L328.5 854.4z" fill="#87ceeb"/><path d="M340.3 850.0L345.9 845.9L343.8 839.3L336.8 839.3L334.7 845.9z" fill="#87ceeb"/><path d="M346.4 840.0L352.0 835.9L349.9 829.3L342.9 829.3L340.8 835.9z" fill="#87ceeb"/><path d="M352.6 838.0L358.2 833.9L356.1 827.3L349.1 827.3L347.0 833.9z" fill="#87ceeb"/><path d="M358.8 847.7L364.4 843.6L362.3 837.0L355.3 837.0L353.2 843.6z" fill="#87ceeb"/><path d="M365.0 863.9L370.6 859.8L368.5 853.2L361.5 853.2L359.4 859.8z" fill="#87ceeb"/><path d="M371.1 847.5L376.7 843.4L374.6 836.8L367.6 836.8L365.5 843.4z" fill="#87ceeb"/><path d="M377.3 861.1L382.9 857.0L380.8 850.4L373.8 850.4L371.7 857.0z" fill="#87ceeb"/><path d="M383.5 878.5L389.1 874.4L387.0 867.8L380.0 867.8L377.9 874.4z" fill="#87ceeb"/><path d="M389.7 877.5L395.3 873.4L393.2 866.8L386.2 866.8L384.1 873.4z" fill="#87ceeb"/><path d="M395.8 877.5L401.4 873.4L399.3 866.8L392.3 866.8L390.2 873.4z" fill="#87ceeb"/><path d="M402.0 880.0L407.6 875.9L405.5 869.3L398.5 869.3L396.4 875.9z" fill="#87ceeb"/><path d="M408.2 880.5L413.8 876.4L411.7 869.8L404.7 869.8L402.6 876.4z" fill="#87ceeb"/><path d="M414.4 883.5L420.0 879.4L417.9 872.8L410.9 872.8L408.8 879.4z" fill="#87ceeb"/><path d="M420.5 886.5L426.1 882.4L424.0 875.8L417.0 875.8L414.9 882.4z" fill="#87ceeb"/><path d="M426.7 885.5L432.3 881.4L430.2 874.8L423.2 874.8L421.1 881.4z" fill="#87ceeb"/><path d="M432.9 887.5L438.5 883.4L436.4 876.8L429.4 876.8L427.3 883.4z" fill="#87ceeb"/><path d="M439.0 883.5L444.6 879.4L442.5 872.8L435.5 872.8L433.4 879.4z" fill="#87ceeb"/><path d="M445.2 881.5L450.8 877.4L448.7 870.8L441.7 870.8L439.6 877.4z" fill="#87ceeb"/><path d="M451.4 881.5L457.0 877.4L454.9 870.8L447.9 870.8L445.8 877.4z" fill="#87ceeb"/><path d="M457.6 883.5L463.2 879.4L461.1 872.8L454.1 872.8L452.0 879.4z" fill="#87ceeb"/><path d="M463.7 881.5L469.3 877.4L467.2 870.8L460.2 870.8L458.1 877.4z" fill="#87ceeb"/><path d="M469.9 881.9L475.5 877.8L473.4 871.2L466.4 871.2L464.3 877.8z" fill="#87ceeb"/><path d="M476.1 886.5L481.7 882.4L479.6 875.8L472.6 875.8L470.5 882.4z" fill="#87ceeb"/><path d="M482.3 871.1L487.9 867.0L485.8 860.4L478.8 860.4L476.7 867.0z" fill="#87ceeb"/><path d="M488.4 863.9L494.0 859.8L491.9 853.2L484.9 853.2L482.8 859.8z" fill="#87ceeb"/><path d="M494.6 859.7L500.2 855.6L498.1 849.0L491.1 849.0L489.0 855.6z" fill="#87ceeb"/><path d="M500.8 857.9L506.4 853.8L504.3 847.2L497.3 847.2L495.2 853.8z" fill="#87ceeb"/><path d="M507.0 858.8L512.6 854.7L510.5 848.1L503.5 848.1L501.4 854.7z" fill="#87ceeb"/><path d="M513.1 864.5L518.7 860.4L516.6 853.8L509.6 853.8L507.5 860.4z" fill="#87ceeb"/><path d="M519.3 871.1L524.9 867.0L522.8 860.4L515.8 860.4L513.7 867.0z" fill="#87ceeb"/><path d="M525.5 877.1L531.1 873.0L529.0 866.4L522.0 866.4L519.9 873.0z" fill="#87ceeb"/><path d="M531.7 882.5L537.3 878.4L535.2 871.8L528.2 871.8L526.1 878.4z" fill="#87ceeb"/><path d="M537.8 883.5L543.4 879.4L541.3 872.8L534.3 872.8L532.2 879.4z" fill="#87ceeb"/><path d="M544.0 884.9L549.6 880.8L547.5 874.2L540.5 874.2L538.4 880.8z" fill="#87ceeb"/><path d="M550.2 887.5L555.8 883.4L553.7 876.8L546.7 876.8L544.6 883.4z" fill="#87ceeb"/><path d="M556.3 887.0L561.9 882.9L559.8 876.3L552.8 876.3L550.7 882.9z" fill="#87ceeb"/><path d="M562.5 884.1L568.1 880.0L566.0 873.4L559.0 873.4L556.9 880.0z" fill="#87ceeb"/><path d="M568.7 881.9L574.3 877.8L572.2 871.2L565.2 871.2L563.1 877.8z" fill="#87ceeb"/><path d="M574.9 880.1L580.5 876.0L578.4 869.4L571.4 869.4L569.3 876.0z" fill="#87ceeb"/><path d="M581.0 879.0L586.6 874.9L584.5 868.3L577.5 868.3L575.4 874.9z" fill="#87ceeb"/><path d="M587.2 878.7L592.8 874.6L590.7 868.0L583.7 868.0L581.6 874.6z" fill="#87ceeb"/><path d="M593.4 878.7L599.0 874.6L596.9 868.0L589.9 868.0L587.8 874.6z" fill="#87ceeb"/><path d="M599.6 882.7L605.2 878.6L603.1 872.0L596.1 872.0L594.0 878.6z" fill="#87ceeb"/><path d="M605.7 878.7L611.3 874.6L609.2 868.0L602.2 868.0L600.1 874.6z" fill="#87ceeb"/><path d="M611.9 881.7L617.5 877.6L615.4 871.0L608.4 871.0L606.3 877.6z" fill="#87ceeb"/><path d="M618.1 886.5L623.7 882.4L621.6 875.8L614.6 875.8L612.5 882.4z" fill="#87ceeb"/><path d="M624.3 880.5L629.9 876.4L627.8 869.8L620.8 869.8L618.7 876.4z" fill="#87ceeb"/><path d="M630.4 883.5L636.0 879.4L633.9 872.8L626.9 872.8L624.8 879.4z" fill="#87ceeb"/><path d="M636.6 886.5L642.2 882.4L640.1 875.8L633.1 875.8L631.0 882.4z" fill="#87ceeb"/><path d="M642.8 870.5L648.4 866.4L646.3 859.8L639.3 859.8L637.2 866.4z" fill="#87ceeb"/><path d="M648.9 874.5L654.5 870.4L652.4 863.8L645.4 863.8L643.3 870.4z" fill="#87ceeb"/><path d="M655.1 873.5L660.7 869.4L658.6 862.8L651.6 862.8L649.5 869.4z" fill="#87ceeb"/><path d="M661.3 884.5L666.9 880.4L664.8 873.8L657.8 873.8L655.7 880.4z" fill="#87ceeb"/><path d="M667.5 883.5L673.1 879.4L671.0 872.8L664.0 872.8L661.9 879.4z" fill="#87ceeb"/><path d="M673.6 887.5L679.2 883.4L677.1 876.8L670.1 876.8L668.0 883.4z" fill="#87ceeb"/><path d="M679.8 890.0L685.4 885.9L683.3 879.3L676.3 879.3L674.2 885.9z" fill="#87ceeb"/><path d="M686.0 889.0L691.6 884.9L689.5 878.3L682.5 878.3L680.4 884.9z" fill="#87ceeb"/><path d="M692.2 889.0L697.8 884.9L695.7 878.3L688.7 878.3L686.6 884.9z" fill="#87ceeb"/><path d="M698.3 887.0L703.9 882.9L701.8 876.3L694.8 876.3L692.7 882.9z" fill="#87ceeb"/><path d="M704.5 887.7L710.1 883.6L708.0 877.0L701.0 877.0L698.9 883.6z" fill="#87ceeb"/><path d="M710.7 888.0L716.3 883.9L714.2 877.3L707.2 877.3L705.1 883.9z" fill="#87ceeb"/><path d="M716.9 887.5L722.5 883.4L720.4 876.8L713.4 876.8L711.3 883.4z" fill="#87ceeb"/><path d="M723.0 885.0L728.6 880.9L726.5 874.3L719.5 874.3L717.4 880.9z" fill="#87ceeb"/><path d="M729.2 883.0L734.8 878.9L732.7 872.3L725.7 872.3L723.6 878.9z" fill="#87ceeb"/><path d="M735.4 887.7L741.0 883.6L738.9 877.0L731.9 877.0L729.8 883.6z" fill="#87ceeb"/><path d="M741.6 889.7L747.2 885.6L745.1 879.0L738.1 879.0L736.0 885.6z" fill="#87ceeb"/><path d="M747.7 889.0L753.3 884.9L751.2 878.3L744.2 878.3L742.1 884.9z" fill="#87ceeb"/><path d="M753.9 889.7L759.5 885.6L757.4 879.0L750.4 879.0L748.3 885.6z" fill="#87ceeb"/><path d="M760.1 889.7L765.7 885.6L763.6 879.0L756.6 879.0L754.5 885.6z" fill="#87ceeb"/><path d="M766.2 889.3L771.8 885.2L769.7 878.6L762.7 878.6L760.6 885.2z" fill="#87ceeb"/><path d="M772.4 889.3L778.0 885.2L775.9 878.6L768.9 878.6L766.8 885.2z" fill="#87ceeb"/><path d="M778.6 878.9L784.2 874.8L782.1 868.2L775.1 868.2L773.0 874.8z" fill="#87ceeb"/><path d="M784.8 866.9L790.4 862.8L788.3 856.2L781.3 856.2L779.2 862.8z" fill="#87ceeb"/><path d="M790.9 860.3L796.5 856.2L794.4 849.6L787.4 849.6L785.3 856.2z" fill="#87ceeb"/><path d="M797.1 853.7L802.7 849.6L800.6 843.0L793.6 843.0L791.5 849.6z" fill="#87ceeb"/><path d="M803.3 847.7L808.9 843.6L806.8 837.0L799.8 837.0L797.7 843.6z" fill="#87ceeb"/><path d="M809.5 853.7L815.1 849.6L813.0 843.0L806.0 843.0L803.9 849.6z" fill="#87ceeb"/><path d="M815.6 859.1L821.2 855.0L819.1 848.4L812.1 848.4L810.0 855.0z" fill="#87ceeb"/><path d="M821.8 863.5L827.4 859.4L825.3 852.8L818.3 852.8L816.2 859.4z" fill="#87ceeb"/><path d="M828.0 868.7L833.6 864.6L831.5 858.0L824.5 858.0L822.4 864.6z" fill="#87ceeb"/><path d="M834.2 874.7L839.8 870.6L837.7 864.0L830.7 864.0L828.6 870.6z" fill="#87ceeb"/><path d="M840.3 878.6L845.9 874.5L843.8 867.9L836.8 867.9L834.7 874.5z" fill="#87ceeb"/><path d="M846.5 881.5L852.1 877.4L850.0 870.8L843.0 870.8L840.9 877.4z" fill="#87ceeb"/><path d="M852.7 881.5L858.3 877.4L856.2 870.8L849.2 870.8L847.1 877.4z" fill="#87ceeb"/><path d="M858.8 881.5L864.4 877.4L862.3 870.8L855.3 870.8L853.2 877.4z" fill="#87ceeb"/><path d="M865.0 881.5L870.6 877.4L868.5 870.8L861.5 870.8L859.4 877.4z" fill="#87ceeb"/><path d="M871.2 882.5L876.8 878.4L874.7 871.8L867.7 871.8L865.6 878.4z" fill="#87ceeb"/><path d="M877.4 883.5L883.0 879.4L880.9 872.8L873.9 872.8L871.8 879.4z" fill="#87ceeb"/><path d="M883.5 882.0L889.1 877.9L887.0 871.3L880.0 871.3L877.9 877.9z" fill="#87ceeb"/><path d="M889.7 881.5L895.3 877.4L893.2 870.8L886.2 870.8L884.1 877.4z" fill="#87ceeb"/><path d="M895.9 882.5L901.5 878.4L899.4 871.8L892.4 871.8L890.3 878.4z" fill="#87ceeb"/><path d="M902.1 880.5L907.7 876.4L905.6 869.8L898.6 869.8L896.5 876.4z" fill="#87ceeb"/><path d="M908.2 879.5L913.8 875.4L911.7 868.8L904.7 868.8L902.6 875.4z" fill="#87ceeb"/><path d="M914.4 881.5L920.0 877.4L917.9 870.8L910.9 870.8L908.8 877.4z" fill="#87ceeb"/><path d="M920.6 887.5L926.2 883.4L924.1 876.8L917.1 876.8L915.0 883.4z" fill="#87ceeb"/><path d="M926.8 880.7L932.4 876.6L930.3 870.0L923.3 870.0L921.2 876.6z" fill="#87ceeb"/><path d="M945.3 865.5L950.9 861.4L948.8 854.8L941.8 854.8L939.7 861.4z" fill="#87ceeb"/><path d="M963.8 888.0L969.4 883.9L967.3 877.3L960.3 877.3L958.2 883.9z" fill="#87ceeb"/><path d="M982.3 870.0L987.9 865.9L985.8 859.3L978.8 859.3L976.7 865.9z" fill="#87ceeb"/><path d="M1000.8 879.0L1006.4 874.9L1004.3 868.3L997.3 868.3L995.2 874.9z" fill="#87ceeb"/><path d="M1019.4 873.0L1025.0 868.9L1022.9 862.3L1015.9 862.3L1013.8 868.9z" fill="#87ceeb"/><path d="M1037.9 872.0L1043.5 867.9L1041.4 861.3L1034.4 861.3L1032.3 867.9z" fill="#87ceeb"/><path d="M1056.4 874.0L1062.0 869.9L1059.9 863.3L1052.9 863.3L1050.8 869.9z" fill="#87ceeb"/><path d="M1074.9 871.0L1080.5 866.9L1078.4 860.3L1071.4 860.3L1069.3 866.9z" fill="#87ceeb"/><path d="M1093.4 865.0L1099.0 860.9L1096.9 854.3L1089.9 854.3L1087.8 860.9z" fill="#87ceeb"/><path d="M1112.0 875.0L1117.6 870.9L1115.5 864.3L1108.5 864.3L1106.4 870.9z" fill="#87ceeb"/><path d="M1130.5 860.5L1136.1 856.4L1134.0 849.8L1127.0 849.8L1124.9 856.4z" fill="#87ceeb"/><path d="M1149.0 879.5L1154.6 875.4L1152.5 868.8L1145.5 868.8L1143.4 875.4z" fill="#87ceeb"/><path d="M1167.5 899.4L1173.1 895.3L1171.0 888.7L1164.0 888.7L1161.9 895.3z" fill="#87ceeb"/><path d="M1186.0 896.4L1191.6 892.3L1189.5 885.7L1182.5 885.7L1180.4 892.3z" fill="#87ceeb"/><path d="M1204.6 898.3L1210.2 894.2L1208.1 887.6L1201.1 887.6L1199.0 894.2z" fill="#87ceeb"/><path d="M1223.1 891.5L1228.7 887.4L1226.6 880.8L1219.6 880.8L1217.5 887.4z" fill="#87ceeb"/><path d="M1241.6 861.5L1247.2 857.4L1245.1 850.8L1238.1 850.8L1236.0 857.4z" fill="#87ceeb"/><path d="M1260.1 867.0L1265.7 862.9L1263.6 856.3L1256.6 856.3L1254.5 862.9z" fill="#87ceeb"/><path d="M1278.6 869.0L1284.2 864.9L1282.1 858.3L1275.1 858.3L1273.0 864.9z" fill="#87ceeb"/><path d="M1297.2 885.0L1302.8 880.9L1300.7 874.3L1293.7 874.3L1291.6 880.9z" fill="#87ceeb"/><path d="M1315.7 887.5L1321.3 883.4L1319.2 876.8L1312.2 876.8L1310.1 883.4z" fill="#87ceeb"/><path d="M1334.2 890.5L1339.8 886.4L1337.7 879.8L1330.7 879.8L1328.6 886.4z" fill="#87ceeb"/><path d="M1352.7 893.0L1358.3 888.9L1356.2 882.3L1349.2 882.3L1347.1 888.9z" fill="#87ceeb"/><path d="M1371.2 869.2L1376.8 865.1L1374.7 858.5L1367.7 858.5L1365.6 865.1z" fill="#87ceeb"/><path d="M1389.8 856.3L1395.4 852.2L1393.3 845.6L1386.3 845.6L1384.2 852.2z" fill="#87ceeb"/><path d="M1408.3 869.5L1413.9 865.4L1411.8 858.8L1404.8 858.8L1402.7 865.4z" fill="#87ceeb"/><path d="M1426.8 878.5L1432.4 874.4L1430.3 867.8L1423.3 867.8L1421.2 874.4z" fill="#87ceeb"/><path d="M1445.3 874.0L1450.9 869.9L1448.8 863.3L1441.8 863.3L1439.7 869.9z" fill="#87ceeb"/>
</g>
<text y="333.4"><tspan x="1290.5" textLength="55.0" lengthAdjust="spacingAndGlyphs">NBM</tspan></text>
<g>
<path d="M1389.0 324.6h11.0M1394.5 319.1v11.0M1389.2 319.3l10.6 10.6M1389.2 329.9l10.6 -10.6" stroke="#ffa500" stroke-width="1.15" fill="none"/>
<path d="M186.6 871.2h11.0M192.1 865.7v11.0M186.8 865.9l10.6 10.6M186.8 876.5l10.6 -10.6" stroke="#ffa500" stroke-width="1.15" fill="none"/><path d="M192.8 860.2h11.0M198.3 854.7v11.0M193.0 854.9l10.6 10.6M193.0 865.5l10.6 -10.6" stroke="#ffa500" stroke-width="1.15" fill="none"/><path d="M199.0 853.1h11.0M204.5 847.6v11.0M199.2 847.8l10.6 10.6M199.2 858.4l10.6 -10.6" stroke="#ffa500" stroke-width="1.15" fill="none"/><path d="M205.1 850.4h11.0M210.6 844.9v11.0M205.3 845.1l10.6 10.6M205.3 855.7l10.6 -10.6" stroke="#ffa500" stroke-width="1.15" fill="none"/><path d="M211.3 852.1h11.0M216.8 846.6v11.0M211.5 846.8l10.6 10.6M211.5 857.4l10.6 -10.6" stroke="#ffa500" stroke-width="1.15" fill="none"/><path d="M217.5 855.1h11.0M223.0 849.6v11.0M217.7 849.8l10.6 10.6M217.7 860.4l10.6 -10.6" stroke="#ffa500" stroke-width="1.15" fill="none"/><path d="M223.6 862.2h11.0M229.1 856.7v11.0M223.8 856.9l10.6 10.6M223.8 867.5l10.6 -10.6" stroke="#ffa500" stroke-width="1.15" fill="none"/><path d="M229.8 865.5h11.0M235.3 860.0v11.0M230.0 860.2l10.6 10.6M230.0 870.8l10.6 -10.6" stroke="#ffa500" stroke-width="1.15" fill="none"/><path d="M236.0 866.7h11.0M241.5 861.2v11.0M236.2 861.4l10.6 10.6M236.2 872.0l10.6 -10.6" stroke="#ffa500" stroke-width="1.15" fill="none"/><path d="M242.2 867.9h11.0M247.7 862.4v11.0M242.4 862.6l10.6 10.6M242.4 873.2l10.6 -10.6" stroke="#ffa500" stroke-width="1.15" fill="none"/><path d="M248.3 870.9h11.0M253.8 865.4v11.0M248.5 865.6l10.6 10.6M248.5 876.2l10.6 -10.6" stroke="#ffa500" stroke-width="1.15" fill="none"/><path d="M254.5 870.2h11.0M260.0 864.7v11.0M254.7 864.9l10.6 10.6M254.7 875.5l10.6 -10.6" stroke="#ffa500" stroke-width="1.15" fill="none"/><path d="M260.7 872.3h11.0M266.2 866.8v11.0M260.9 867.0l10.6 10.6M260.9 877.6l10.6 -10.6" stroke="#ffa500" stroke-width="1.15" fill="none"/><path d="M266.9 874.5h11.0M272.4 869.0v11.0M267.1 869.2l10.6 10.6M267.1 879.8l10.6 -10.6" stroke="#ffa500" stroke-width="1.15" fill="none"/><path d="M273.0 876.0h11.0M278.5 870.5v11.0M273.2 870.7l10.6 10.6M273.2 881.3l10.6 -10.6" stroke="#ffa500" stroke-width="1.15" fill="none"/><path d="M279.2 877.3h11.0M284.7 871.8v11.0M279.4 872.0l10.6 10.6M279.4 882.6l10.6 -10.6" stroke="#ffa500" stroke-width="1.15" fill="none"/><path d="M285.4 878.5h11.0M290.9 873.0v11.0M285.6 873.2l10.6 10.6M285.6 883.8l10.6 -10.6" stroke="#ffa500" stroke-width="1.15" fill="none"/><path d="M291.6 879.5h11.0M297.1 874.0v11.0M291.8 874.2l10.6 10.6M291.8 884.8l10.6 -10.6" stroke="#ffa500" stroke-width="1.15" fill="none"/><path d="M297.7 880.5h11.0M303.2 875.0v11.0M297.9 875.2l10.6 10.6M297.9 885.8l10.6 -10.6" stroke="#ffa500" stroke-width="1.15" fill="none"/><path d="M303.9 881.5h11.0M309.4 876.0v11.0M304.1 876.2l10.6 10.6M304.1 886.8l10.6 -10.6" stroke="#ffa500" stroke-width="1.15" fill="none"/><path d="M310.1 882.5h11.0M315.6 877.0v11.0M310.3 877.2l10.6 10.6M310.3 887.8l10.6 -10.6" stroke="#ffa500" stroke-width="1.15" fill="none"/><path d="M316.3 881.5h11.0M321.8 876.0v11.0M316.5 876.2l10.6 10.6M316.5 886.8l10.6 -10.6" stroke="#ffa500" stroke-width="1.15" fill="none"/><path d="M322.4 879.0h11.0M327.9 873.5v11.0M322.6 873.7l10.6 10.6M322.6 884.3l10.6 -10.6" stroke="#ffa500" stroke-width="1.15" fill="none"/><path d="M328.6 872.5h11.0M334.1 867.0v11.0M328.8 867.2l10.6 10.6M328.8 877.8l10.6 -10.6" stroke="#ffa500" stroke-width="1.15" fill="none"/><path d="M334.8 864.0h11.0M340.3 858.5v11.0M335.0 858.7l10.6 10.6M335.0 869.3l10.6 -10.6" stroke="#ffa500" stroke-width="1.15" fill="none"/><path d="M340.9 857.0h11.0M346.4 851.5v11.0M341.1 851.7l10.6 10.6M341.1 862.3l10.6 -10.6" stroke="#ffa500" stroke-width="1.15" fill="none"/><path d="M347.1 849.5h11.0M352.6 844.0v11.0M347.3 844.2l10.6 10.6M347.3 854.8l10.6 -10.6" stroke="#ffa500" stroke-width="1.15" fill="none"/><path d="M353.3 846.5h11.0M358.8 841.0v11.0M353.5 841.2l10.6 10.6M353.5 851.8l10.6 -10.6" stroke="#ffa500" stroke-width="1.15" fill="none"/><path d="M359.5 851.5h11.0M365.0 846.0v11.0M359.7 846.2l10.6 10.6M359.7 856.8l10.6 -10.6" stroke="#ffa500" stroke-width="1.15" fill="none"/><path d="M365.6 859.0h11.0M371.1 853.5v11.0M365.8 853.7l10.6 10.6M365.8 864.3l10.6 -10.6" stroke="#ffa500" stroke-width="1.15" fill="none"/><path d="M371.8 866.0h11.0M377.3 860.5v11.0M372.0 860.7l10.6 10.6M372.0 871.3l10.6 -10.6" stroke="#ffa500" stroke-width="1.15" fill="none"/><path d="M378.0 869.0h11.0M383.5 863.5v11.0M378.2 863.7l10.6 10.6M378.2 874.3l10.6 -10.6" stroke="#ffa500" stroke-width="1.15" fill="none"/><path d="M384.2 870.0h11.0M389.7 864.5v11.0M384.4 864.7l10.6 10.6M384.4 875.3l10.6 -10.6" stroke="#ffa500" stroke-width="1.15" fill="none"/><path d="M390.3 870.7h11.0M395.8 865.2v11.0M390.5 865.4l10.6 10.6M390.5 876.0l10.6 -10.6" stroke="#ffa500" stroke-width="1.15" fill="none"/><path d="M396.5 871.2h11.0M402.0 865.7v11.0M396.7 865.9l10.6 10.6M396.7 876.5l10.6 -10.6" stroke="#ffa500" stroke-width="1.15" fill="none"/><path d="M402.7 872.2h11.0M408.2 866.7v11.0M402.9 866.9l10.6 10.6M402.9 877.5l10.6 -10.6" stroke="#ffa500" stroke-width="1.15" fill="none"/><path d="M421.2 875.5h11.0M426.7 870.0v11.0M421.4 870.2l10.6 10.6M421.4 880.8l10.6 -10.6" stroke="#ffa500" stroke-width="1.15" fill="none"/><path d="M439.7 876.0h11.0M445.2 870.5v11.0M439.9 870.7l10.6 10.6M439.9 881.3l10.6 -10.6" stroke="#ffa500" stroke-width="1.15" fill="none"/><path d="M458.2 881.0h11.0M463.7 875.5v11.0M458.4 875.7l10.6 10.6M458.4 886.3l10.6 -10.6" stroke="#ffa500" stroke-width="1.15" fill="none"/><path d="M476.8 874.0h11.0M482.3 868.5v11.0M477.0 868.7l10.6 10.6M477.0 879.3l10.6 -10.6" stroke="#ffa500" stroke-width="1.15" fill="none"/><path d="M495.3 858.0h11.0M500.8 852.5v11.0M495.5 852.7l10.6 10.6M495.5 863.3l10.6 -10.6" stroke="#ffa500" stroke-width="1.15" fill="none"/><path d="M513.8 874.5h11.0M519.3 869.0v11.0M514.0 869.2l10.6 10.6M514.0 879.8l10.6 -10.6" stroke="#ffa500" stroke-width="1.15" fill="none"/><path d="M532.3 878.0h11.0M537.8 872.5v11.0M532.5 872.7l10.6 10.6M532.5 883.3l10.6 -10.6" stroke="#ffa500" stroke-width="1.15" fill="none"/><path d="M550.8 880.5h11.0M556.3 875.0v11.0M551.0 875.2l10.6 10.6M551.0 885.8l10.6 -10.6" stroke="#ffa500" stroke-width="1.15" fill="none"/><path d="M569.4 882.5h11.0M574.9 877.0v11.0M569.6 877.2l10.6 10.6M569.6 887.8l10.6 -10.6" stroke="#ffa500" stroke-width="1.15" fill="none"/><path d="M587.9 880.5h11.0M593.4 875.0v11.0M588.1 875.2l10.6 10.6M588.1 885.8l10.6 -10.6" stroke="#ffa500" stroke-width="1.15" fill="none"/><path d="M606.4 883.0h11.0M611.9 877.5v11.0M606.6 877.7l10.6 10.6M606.6 888.3l10.6 -10.6" stroke="#ffa500" stroke-width="1.15" fill="none"/><path d="M624.9 882.5h11.0M630.4 877.0v11.0M625.1 877.2l10.6 10.6M625.1 887.8l10.6 -10.6" stroke="#ffa500" stroke-width="1.15" fill="none"/><path d="M643.4 878.5h11.0M648.9 873.0v11.0M643.6 873.2l10.6 10.6M643.6 883.8l10.6 -10.6" stroke="#ffa500" stroke-width="1.15" fill="none"/><path d="M662.0 880.0h11.0M667.5 874.5v11.0M662.2 874.7l10.6 10.6M662.2 885.3l10.6 -10.6" stroke="#ffa500" stroke-width="1.15" fill="none"/><path d="M680.5 882.5h11.0M686.0 877.0v11.0M680.7 877.2l10.6 10.6M680.7 887.8l10.6 -10.6" stroke="#ffa500" stroke-width="1.15" fill="none"/><path d="M699.0 882.5h11.0M704.5 877.0v11.0M699.2 877.2l10.6 10.6M699.2 887.8l10.6 -10.6" stroke="#ffa500" stroke-width="1.15" fill="none"/><path d="M717.5 882.0h11.0M723.0 876.5v11.0M717.7 876.7l10.6 10.6M717.7 887.3l10.6 -10.6" stroke="#ffa500" stroke-width="1.15" fill="none"/><path d="M736.1 883.5h11.0M741.6 878.0v11.0M736.3 878.2l10.6 10.6M736.3 888.8l10.6 -10.6" stroke="#ffa500" stroke-width="1.15" fill="none"/><path d="M754.6 882.5h11.0M760.1 877.0v11.0M754.8 877.2l10.6 10.6M754.8 887.8l10.6 -10.6" stroke="#ffa500" stroke-width="1.15" fill="none"/><path d="M773.1 874.5h11.0M778.6 869.0v11.0M773.3 869.2l10.6 10.6M773.3 879.8l10.6 -10.6" stroke="#ffa500" stroke-width="1.15" fill="none"/><path d="M791.6 850.2h11.0M797.1 844.7v11.0M791.8 844.9l10.6 10.6M791.8 855.5l10.6 -10.6" stroke="#ffa500" stroke-width="1.15" fill="none"/><path d="M810.1 858.6h11.0M815.6 853.1v11.0M810.3 853.3l10.6 10.6M810.3 863.9l10.6 -10.6" stroke="#ffa500" stroke-width="1.15" fill="none"/><path d="M828.7 871.2h11.0M834.2 865.7v11.0M828.9 865.9l10.6 10.6M828.9 876.5l10.6 -10.6" stroke="#ffa500" stroke-width="1.15" fill="none"/><path d="M847.2 874.3h11.0M852.7 868.8v11.0M847.4 869.0l10.6 10.6M847.4 879.6l10.6 -10.6" stroke="#ffa500" stroke-width="1.15" fill="none"/><path d="M865.7 880.3h11.0M871.2 874.8v11.0M865.9 875.0l10.6 10.6M865.9 885.6l10.6 -10.6" stroke="#ffa500" stroke-width="1.15" fill="none"/><path d="M884.2 881.3h11.0M889.7 875.8v11.0M884.4 876.0l10.6 10.6M884.4 886.6l10.6 -10.6" stroke="#ffa500" stroke-width="1.15" fill="none"/><path d="M902.7 883.7h11.0M908.2 878.2v11.0M902.9 878.4l10.6 10.6M902.9 889.0l10.6 -10.6" stroke="#ffa500" stroke-width="1.15" fill="none"/><path d="M921.3 882.3h11.0M926.8 876.8v11.0M921.5 877.0l10.6 10.6M921.5 887.6l10.6 -10.6" stroke="#ffa500" stroke-width="1.15" fill="none"/><path d="M939.8 870.5h11.0M945.3 865.0v11.0M940.0 865.2l10.6 10.6M940.0 875.8l10.6 -10.6" stroke="#ffa500" stroke-width="1.15" fill="none"/><path d="M958.3 878.5h11.0M963.8 873.0v11.0M958.5 873.2l10.6 10.6M958.5 883.8l10.6 -10.6" stroke="#ffa500" stroke-width="1.15" fill="none"/><path d="M976.8 879.5h11.0M982.3 874.0v11.0M977.0 874.2l10.6 10.6M977.0 884.8l10.6 -10.6" stroke="#ffa500" stroke-width="1.15" fill="none"/><path d="M995.3 878.5h11.0M1000.8 873.0v11.0M995.5 873.2l10.6 10.6M995.5 883.8l10.6 -10.6" stroke="#ffa500" stroke-width="1.15" fill="none"/><path d="M1013.9 880.5h11.0M1019.4 875.0v11.0M1014.1 875.2l10.6 10.6M1014.1 885.8l10.6 -10.6" stroke="#ffa500" stroke-width="1.15" fill="none"/><path d="M1032.4 878.5h11.0M1037.9 873.0v11.0M1032.6 873.2l10.6 10.6M1032.6 883.8l10.6 -10.6" stroke="#ffa500" stroke-width="1.15" fill="none"/><path d="M1050.9 881.5h11.0M1056.4 876.0v11.0M1051.1 876.2l10.6 10.6M1051.1 886.8l10.6 -10.6" stroke="#ffa500" stroke-width="1.15" fill="none"/><path d="M1069.4 876.5h11.0M1074.9 871.0v11.0M1069.6 871.2l10.6 10.6M1069.6 881.8l10.6 -10.6" stroke="#ffa500" stroke-width="1.15" fill="none"/><path d="M1087.9 853.5h11.0M1093.4 848.0v11.0M1088.1 848.2l10.6 10.6M1088.1 858.8l10.6 -10.6" stroke="#ffa500" stroke-width="1.15" fill="none"/><path d="M1106.5 856.5h11.0M1112.0 851.0v11.0M1106.7 851.2l10.6 10.6M1106.7 861.8l10.6 -10.6" stroke="#ffa500" stroke-width="1.15" fill="none"/><path d="M1125.0 872.5h11.0M1130.5 867.0v11.0M1125.2 867.2l10.6 10.6M1125.2 877.8l10.6 -10.6" stroke="#ffa500" stroke-width="1.15" fill="none"/><path d="M1143.5 877.5h11.0M1149.0 872.0v11.0M1143.7 872.2l10.6 10.6M1143.7 882.8l10.6 -10.6" stroke="#ffa500" stroke-width="1.15" fill="none"/><path d="M1162.0 877.5h11.0M1167.5 872.0v11.0M1162.2 872.2l10.6 10.6M1162.2 882.8l10.6 -10.6" stroke="#ffa500" stroke-width="1.15" fill="none"/><path d="M1180.5 878.5h11.0M1186.0 873.0v11.0M1180.7 873.2l10.6 10.6M1180.7 883.8l10.6 -10.6" stroke="#ffa500" stroke-width="1.15" fill="none"/><path d="M1199.1 881.5h11.0M1204.6 876.0v11.0M1199.3 876.2l10.6 10.6M1199.3 886.8l10.6 -10.6" stroke="#ffa500" stroke-width="1.15" fill="none"/><path d="M1217.6 871.5h11.0M1223.1 866.0v11.0M1217.8 866.2l10.6 10.6M1217.8 876.8l10.6 -10.6" stroke="#ffa500" stroke-width="1.15" fill="none"/><path d="M1236.1 842.5h11.0M1241.6 837.0v11.0M1236.3 837.2l10.6 10.6M1236.3 847.8l10.6 -10.6" stroke="#ffa500" stroke-width="1.15" fill="none"/><path d="M1254.6 851.5h11.0M1260.1 846.0v11.0M1254.8 846.2l10.6 10.6M1254.8 856.8l10.6 -10.6" stroke="#ffa500" stroke-width="1.15" fill="none"/><path d="M1273.1 873.5h11.0M1278.6 868.0v11.0M1273.3 868.2l10.6 10.6M1273.3 878.8l10.6 -10.6" stroke="#ffa500" stroke-width="1.15" fill="none"/><path d="M1291.7 879.5h11.0M1297.2 874.0v11.0M1291.9 874.2l10.6 10.6M1291.9 884.8l10.6 -10.6" stroke="#ffa500" stroke-width="1.15" fill="none"/><path d="M1310.2 882.5h11.0M1315.7 877.0v11.0M1310.4 877.2l10.6 10.6M1310.4 887.8l10.6 -10.6" stroke="#ffa500" stroke-width="1.15" fill="none"/><path d="M1328.7 883.5h11.0M1334.2 878.0v11.0M1328.9 878.2l10.6 10.6M1328.9 888.8l10.6 -10.6" stroke="#ffa500" stroke-width="1.15" fill="none"/><path d="M1347.2 885.5h11.0M1352.7 880.0v11.0M1347.4 880.2l10.6 10.6M1347.4 890.8l10.6 -10.6" stroke="#ffa500" stroke-width="1.15" fill="none"/><path d="M1365.7 875.5h11.0M1371.2 870.0v11.0M1365.9 870.2l10.6 10.6M1365.9 880.8l10.6 -10.6" stroke="#ffa500" stroke-width="1.15" fill="none"/><path d="M1402.8 842.5h11.0M1408.3 837.0v11.0M1403.0 837.2l10.6 10.6M1403.0 847.8l10.6 -10.6" stroke="#ffa500" stroke-width="1.15" fill="none"/><path d="M1439.8 872.5h11.0M1445.3 867.0v11.0M1440.0 867.2l10.6 10.6M1440.0 877.8l10.6 -10.6" stroke="#ffa500" stroke-width="1.15" fill="none"/>
</g>
<rect x="124.5" y="98.5" width="1333.0" height="796.0" fill="none" stroke="#000" stroke-width="1.1"/>
</svg></body></html>
